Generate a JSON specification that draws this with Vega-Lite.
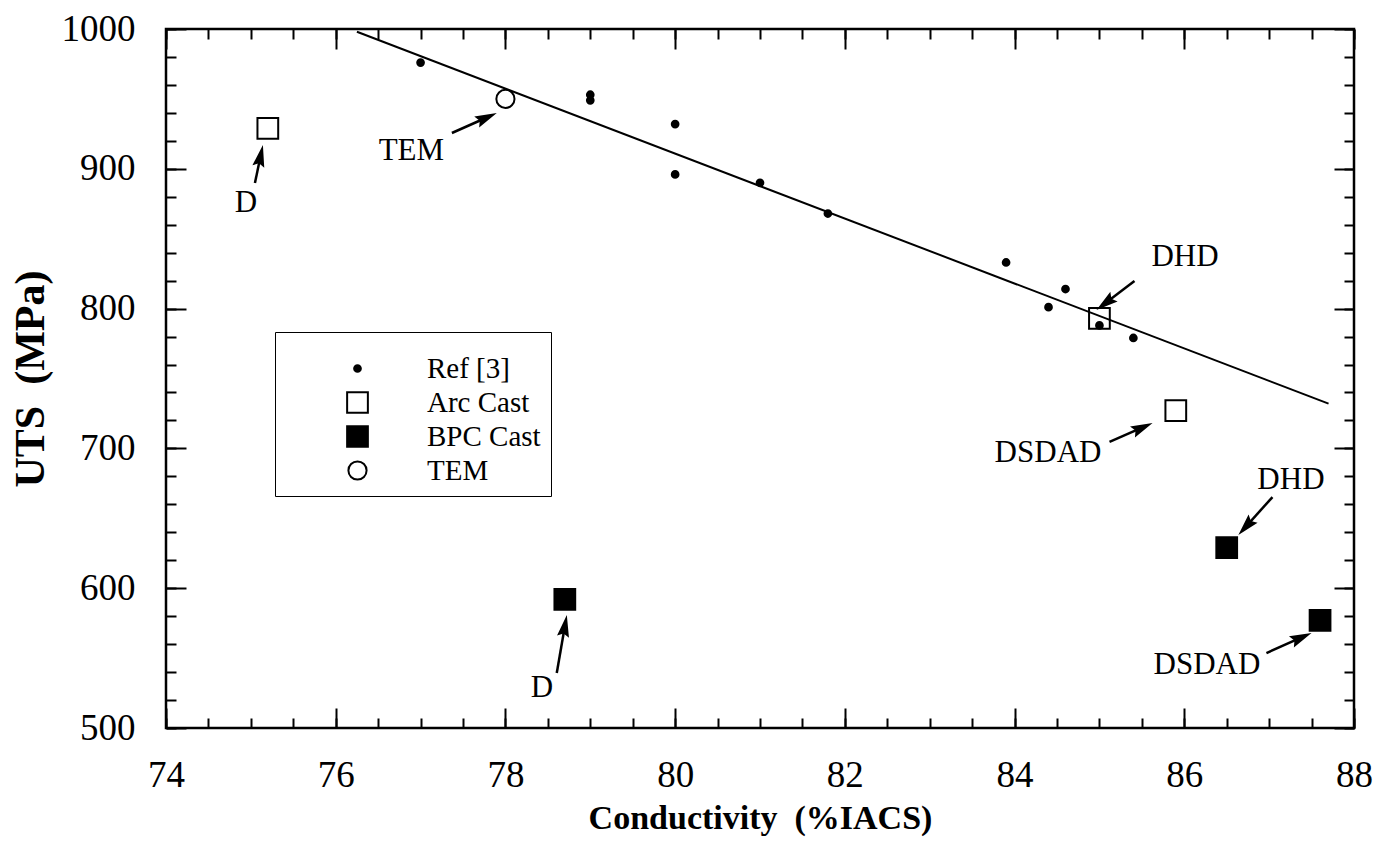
{
  "$schema": "https://vega.github.io/schema/vega-lite/v6.json",
  "width": 1188,
  "height": 699,
  "autosize": {"type": "none"},
  "padding": {"left": 166, "top": 29, "right": 21, "bottom": 133},
  "background": "white",
  "config": {
    "view": {"stroke": "black", "strokeWidth": 2.5},
    "font": "Liberation Serif",
    "axis": {"domain": false, "grid": false, "tickColor": "black", "tickWidth": 2, "labelColor": "black", "titleColor": "black", "labelFont": "Liberation Serif", "titleFont": "Liberation Serif"}
  },
  "datasets": {
    "fit": [
      {"x": 76.25, "y": 998},
      {"x": 87.7, "y": 732}
    ],
    "points": [
      {"x": 75.2, "y": 929, "series": "Arc Cast"},
      {"x": 85.0, "y": 793, "series": "Arc Cast"},
      {"x": 85.9, "y": 727, "series": "Arc Cast"},
      {"x": 78.7, "y": 592, "series": "BPC Cast"},
      {"x": 86.5, "y": 629, "series": "BPC Cast"},
      {"x": 87.6, "y": 577, "series": "BPC Cast"},
      {"x": 78.0, "y": 950, "series": "TEM"},
      {"x": 77.0, "y": 976, "series": "Ref [3]"},
      {"x": 79.0, "y": 953, "series": "Ref [3]"},
      {"x": 79.0, "y": 949, "series": "Ref [3]"},
      {"x": 80.0, "y": 932, "series": "Ref [3]"},
      {"x": 80.0, "y": 896, "series": "Ref [3]"},
      {"x": 81.0, "y": 890, "series": "Ref [3]"},
      {"x": 81.8, "y": 868, "series": "Ref [3]"},
      {"x": 83.9, "y": 833, "series": "Ref [3]"},
      {"x": 84.4, "y": 801, "series": "Ref [3]"},
      {"x": 84.6, "y": 814, "series": "Ref [3]"},
      {"x": 85.0, "y": 788, "series": "Ref [3]"},
      {"x": 85.4, "y": 779, "series": "Ref [3]"}
    ],
    "notes": [
      {"label": "D", "tx": 74.942, "ty": 875.5, "x1": 75.048, "y1": 889.8, "x2": 75.115, "y2": 909.3, "angle": 12},
      {"label": "TEM", "tx": 76.892, "ty": 912.7, "x1": 77.369, "y1": 925.6, "x2": 77.78, "y2": 936.7, "angle": 66},
      {"label": "DHD", "tx": 86.008, "ty": 836.9, "x1": 85.413, "y1": 819.7, "x2": 85.068, "y2": 803.8, "angle": 233},
      {"label": "DSDAD", "tx": 84.394, "ty": 696.7, "x1": 85.119, "y1": 704.6, "x2": 85.508, "y2": 715.0, "angle": 66},
      {"label": "DHD", "tx": 87.257, "ty": 677.4, "x1": 87.039, "y1": 665.2, "x2": 86.724, "y2": 643.9, "angle": 222},
      {"label": "DSDAD", "tx": 86.267, "ty": 545.1, "x1": 86.968, "y1": 553.6, "x2": 87.381, "y2": 564.8, "angle": 66},
      {"label": "D", "tx": 78.429, "ty": 528.6, "x1": 78.605, "y1": 539.3, "x2": 78.701, "y2": 573.1, "angle": 10}
    ]
  },
  "layer": [
    {
      "data": {"name": "fit"},
      "mark": {"type": "line", "color": "black", "strokeWidth": 2},
      "encoding": {
        "x": {"field": "x", "type": "quantitative", "scale": {"domain": [74, 88], "nice": false, "zero": false},
          "axis": {"orient": "bottom", "values": [74, 76, 78, 80, 82, 84, 86, 88], "ticks": false, "labelPadding": 29, "labelFontSize": 37, "labelFlush": false, "labelBaseline": "top", "format": "d", "title": "Conductivity\u00a0\u00a0(%IACS)", "titleFontSize": 34, "titleFontWeight": "bold", "titlePadding": 8}},
        "y": {"field": "y", "type": "quantitative", "scale": {"domain": [500, 1000], "nice": false, "zero": false},
          "axis": {"orient": "left", "values": [500, 600, 700, 800, 900, 1000], "ticks": false, "labelPadding": 31, "labelFontSize": 37, "labelFlush": false, "format": "d", "title": "UTS\u00a0\u00a0(MPa)", "titleFontSize": 42, "titleFontWeight": "bold", "titlePadding": 9}}
      }
    },
    {
      "data": {"name": "points"},
      "mark": {"type": "point", "filled": true, "strokeWidth": 2, "opacity": 1},
      "encoding": {
        "x": {"field": "x", "type": "quantitative", "scale": {"domain": [74, 88], "nice": false, "zero": false},
          "axis": {"orient": "bottom", "values": [74, 76, 78, 80, 82, 84, 86, 88], "tickSize": -20, "labels": false, "title": null}},
        "y": {"field": "y", "type": "quantitative", "scale": {"domain": [500, 1000], "nice": false, "zero": false},
          "axis": {"orient": "left", "values": [500, 600, 700, 800, 900, 1000], "tickSize": -20, "labels": false, "title": null}},
        "shape": {"field": "series", "type": "nominal",
          "scale": {"domain": ["Ref [3]", "Arc Cast", "BPC Cast", "TEM"], "range": ["circle", "square", "square", "circle"]},
          "legend": {"title": " ", "titleFontSize": 12, "titlePadding": 0, "orient": "none", "legendX": 109, "legendY": 303, "padding": 10, "symbolOffset": 58, "labelOffset": 55, "rowPadding": 4, "labelFontSize": 29, "labelFont": "Liberation Serif", "labelColor": "black", "strokeColor": "black", "fillColor": "white", "symbolStrokeWidth": 2}},
        "fill": {"field": "series", "type": "nominal",
          "scale": {"domain": ["Ref [3]", "Arc Cast", "BPC Cast", "TEM"], "range": ["black", "transparent", "black", "transparent"]},
          "legend": {"title": " ", "titleFontSize": 12, "titlePadding": 0, "orient": "none", "legendX": 109, "legendY": 303, "padding": 10, "symbolOffset": 58, "labelOffset": 55, "rowPadding": 4, "labelFontSize": 29, "labelFont": "Liberation Serif", "labelColor": "black", "strokeColor": "black", "fillColor": "white", "symbolStrokeWidth": 2}},
        "stroke": {"field": "series", "type": "nominal",
          "scale": {"domain": ["Ref [3]", "Arc Cast", "BPC Cast", "TEM"], "range": ["black", "black", "black", "black"]},
          "legend": {"title": " ", "titleFontSize": 12, "titlePadding": 0, "orient": "none", "legendX": 109, "legendY": 303, "padding": 10, "symbolOffset": 58, "labelOffset": 55, "rowPadding": 4, "labelFontSize": 29, "labelFont": "Liberation Serif", "labelColor": "black", "strokeColor": "black", "fillColor": "white", "symbolStrokeWidth": 2}},
        "size": {"field": "series", "type": "nominal",
          "scale": {"type": "ordinal", "domain": ["Ref [3]", "Arc Cast", "BPC Cast", "TEM"], "range": [45, 430, 430, 330]},
          "legend": {"title": " ", "titleFontSize": 12, "titlePadding": 0, "orient": "none", "legendX": 109, "legendY": 303, "padding": 10, "symbolOffset": 58, "labelOffset": 55, "rowPadding": 4, "labelFontSize": 29, "labelFont": "Liberation Serif", "labelColor": "black", "strokeColor": "black", "fillColor": "white", "symbolStrokeWidth": 2}}
      }
    },
    {
      "data": {"name": "notes"},
      "mark": {"type": "rule", "color": "black", "strokeWidth": 2.5},
      "encoding": {
        "x": {"field": "x1", "type": "quantitative", "scale": {"domain": [74, 88], "nice": false, "zero": false},
          "axis": {"orient": "bottom", "values": [74, 74.5, 75, 75.5, 76, 76.5, 77, 77.5, 78, 78.5, 79, 79.5, 80, 80.5, 81, 81.5, 82, 82.5, 83, 83.5, 84, 84.5, 85, 85.5, 86, 86.5, 87, 87.5, 88], "tickSize": -10, "labels": false, "title": null}},
        "y": {"field": "y1", "type": "quantitative", "scale": {"domain": [500, 1000], "nice": false, "zero": false},
          "axis": {"orient": "left", "values": [500, 520, 540, 560, 580, 600, 620, 640, 660, 680, 700, 720, 740, 760, 780, 800, 820, 840, 860, 880, 900, 920, 940, 960, 980, 1000], "tickSize": -10, "labels": false, "title": null}},
        "x2": {"field": "x2"},
        "y2": {"field": "y2"}
      }
    },
    {
      "data": {"name": "notes"},
      "mark": {"type": "point", "shape": "M0,-1L0.55,1L0,0.7L-0.55,1Z", "filled": true, "color": "black", "size": 484, "opacity": 1},
      "encoding": {
        "x": {"field": "x2", "type": "quantitative", "scale": {"domain": [74, 88], "nice": false, "zero": false},
          "axis": {"orient": "top", "values": [74, 76, 78, 80, 82, 84, 86, 88], "tickSize": -20, "labels": false, "title": null}},
        "y": {"field": "y2", "type": "quantitative", "scale": {"domain": [500, 1000], "nice": false, "zero": false},
          "axis": {"orient": "right", "values": [500, 600, 700, 800, 900, 1000], "tickSize": -20, "labels": false, "title": null}},
        "angle": {"field": "angle", "type": "quantitative", "scale": null}
      }
    },
    {
      "data": {"name": "notes"},
      "mark": {"type": "text", "font": "Liberation Serif", "fontSize": 31, "color": "black", "align": "center", "baseline": "middle"},
      "encoding": {
        "x": {"field": "tx", "type": "quantitative", "scale": {"domain": [74, 88], "nice": false, "zero": false},
          "axis": {"orient": "top", "values": [74, 74.5, 75, 75.5, 76, 76.5, 77, 77.5, 78, 78.5, 79, 79.5, 80, 80.5, 81, 81.5, 82, 82.5, 83, 83.5, 84, 84.5, 85, 85.5, 86, 86.5, 87, 87.5, 88], "tickSize": -10, "labels": false, "title": null}},
        "y": {"field": "ty", "type": "quantitative", "scale": {"domain": [500, 1000], "nice": false, "zero": false},
          "axis": {"orient": "right", "values": [500, 520, 540, 560, 580, 600, 620, 640, 660, 680, 700, 720, 740, 760, 780, 800, 820, 840, 860, 880, 900, 920, 940, 960, 980, 1000], "tickSize": -10, "labels": false, "title": null}},
        "text": {"field": "label"}
      }
    }
  ],
  "resolve": {"axis": {"x": "independent", "y": "independent"}}
}
